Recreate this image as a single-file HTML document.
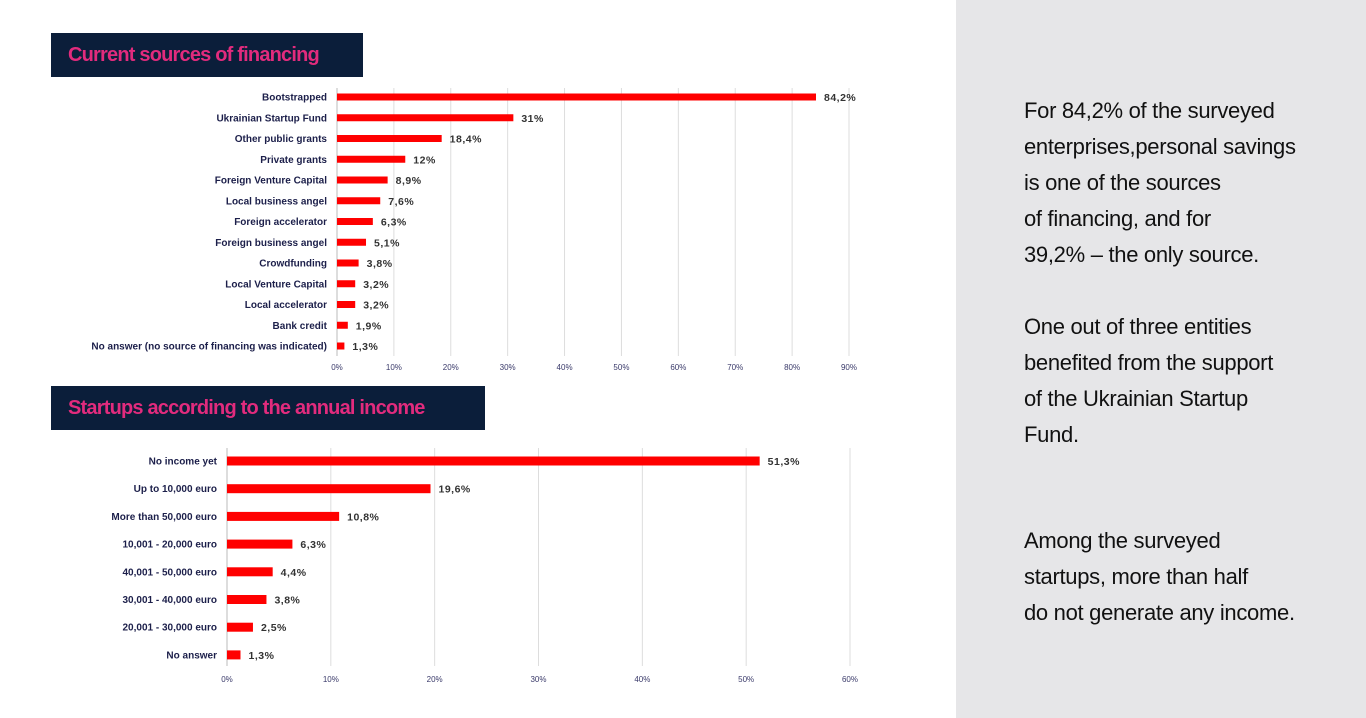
<!DOCTYPE html>
<html><head><meta charset="utf-8"><style>
html,body{margin:0;padding:0;width:1366px;height:718px;overflow:hidden;background:#fff;font-family:"Liberation Sans",sans-serif}
#side{position:absolute;left:956px;top:0;width:410px;height:718px;background:#e6e6e8}
.p{position:absolute;left:68px;font-size:22px;line-height:36px;color:#111;letter-spacing:-0.3px}
.tb{position:absolute;left:51px;height:44px;background:#0b1e3a;color:#e22b7d;font-weight:bold;font-size:20px;letter-spacing:-0.8px;line-height:44px;padding-left:17px;box-sizing:border-box}
</style></head><body>
<div class="tb" style="top:33px;width:312px">Current sources of financing</div>
<div class="tb" style="top:386px;width:434px">Startups according to the annual income</div>
<svg id="svg" width="956" height="718" style="position:absolute;left:0;top:0"></svg>
<div id="side">
<div class="p" style="top:93px">For 84,2% of the surveyed<br>enterprises,personal savings<br>is one of the sources<br>of financing, and for<br>39,2% – the only source.</div>
<div class="p" style="top:309px">One out of three entities<br>benefited from the support<br>of the Ukrainian Startup<br>Fund.</div>
<div class="p" style="top:523px">Among the surveyed<br>startups, more than half<br>do not generate any income.</div>
</div>
<script>
const cats1=["Bootstrapped","Ukrainian Startup Fund","Other public grants","Private grants","Foreign Venture Capital","Local business angel","Foreign accelerator","Foreign business angel","Crowdfunding","Local Venture Capital","Local accelerator","Bank credit","No answer (no source of financing was indicated)"];
const vals1=[84.2,31,18.4,12,8.9,7.6,6.3,5.1,3.8,3.2,3.2,1.9,1.3];
const labels1=["84,2%","31%","18,4%","12%","8,9%","7,6%","6,3%","5,1%","3,8%","3,2%","3,2%","1,9%","1,3%"];
const ticks1=[0,10,20,30,40,50,60,70,80,90];
const cats2=["No income yet","Up to 10,000 euro","More than 50,000 euro","10,001 - 20,000 euro","40,001 - 50,000 euro","30,001 - 40,000 euro","20,001 - 30,000 euro","No answer"];
const vals2=[51.3,19.6,10.8,6.3,4.4,3.8,2.5,1.3];
const labels2=["51,3%","19,6%","10,8%","6,3%","4,4%","3,8%","2,5%","1,3%"];
const ticks2=[0,10,20,30,40,50,60];
const svg=document.getElementById('svg');const NS='http://www.w3.org/2000/svg';
function mk(t,a,txt){const e=document.createElementNS(NS,t);for(const k in a)e.setAttribute(k,a[k]);if(txt!=null)e.textContent=txt;svg.appendChild(e);return e;}
function chart(id,cats,vals,labels,ticks,x0,x1,max,y0,step,bh,gTop,gBot,tickY,fs){
 const sx=v=>x0+(x1-x0)*v/max, sy=i=>y0+i*step;
 ticks.forEach(t=>{const l=mk('line',{x1:sx(t),x2:sx(t),y1:gTop,y2:gBot,stroke:t===0?'#bbb':'#ddd','stroke-width':1});
  
  const tx=mk('text',{x:sx(t),y:tickY,'text-anchor':'middle','font-size':8,fill:'#3a3a6a'},t+'%');
  });
 cats.forEach((c,i)=>{const y=sy(i);
  const lb=mk('text',{x:x0-10,y:y+3.5,'text-anchor':'end','font-size':fs,fill:'#1c1f4a','font-weight':'bold'},c);
  
  const r=mk('rect',{x:x0,y:y-bh/2,width:sx(vals[i])-x0,height:bh,fill:'#ff0000'});
  
  const v=mk('text',{x:sx(vals[i])+8,y:y+4,'font-size':fs+0.5,fill:'#333','font-weight':'bold','letter-spacing':'0.5'},labels[i]);
  });
}
chart('financing',cats1,vals1,labels1,ticks1,337,849,90,97,20.75,7,88,356,370,10);
chart('income',cats2,vals2,labels2,ticks2,227,850,60,461,27.7,9,448,666,682,10);
</script>
</body></html>
